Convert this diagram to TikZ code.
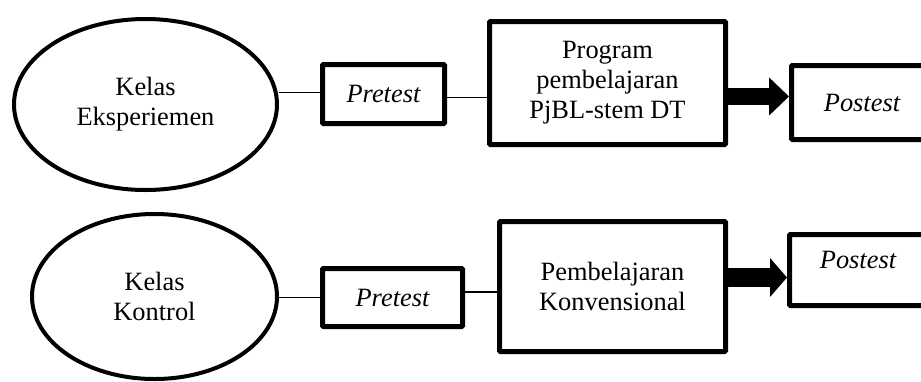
\documentclass[tikz,border=0pt]{standalone}
\usepackage{fontspec}
\setmainfont{Liberation Serif}
\usetikzlibrary{shapes.geometric,arrows.meta,calc}

\tikzset{
  txt/.style={font=\fontsize{26.4}{30}\selectfont, align=center, text=black},
  group/.style={txt, ellipse, draw=black, line width=4pt, inner sep=0pt},
  stepbox/.style={txt, rectangle, draw=black, line width=5pt, inner sep=0pt, rounded corners=1pt},
  link/.style={draw=black, line width=1.2pt},
  fatarrow/.style={draw=black, line width=#1},
}

\begin{document}
\begin{tikzpicture}[x=1pt, y=-1pt]
  \useasboundingbox (0,0) rectangle (921,381);
  \clip (0,0) rectangle (921,381);
  \fill[white] (0,0) rectangle (921,381);

  % experimental class row
  \node[group, minimum width=263pt, minimum height=171pt] (e1) at (145.5,104.5) {Kelas\\Eksperiemen};
  \node[stepbox, minimum width=122pt, minimum height=59pt] (pre1) at (383.5,94) {\itshape Pretest};
  \node[stepbox, minimum width=236pt, minimum height=123pt] (prog) at (607.5,83) {Program\\pembelajaran\\PjBL-stem DT};
  \node[stepbox, minimum width=141pt, minimum height=74pt] (post1) at (862,102.5) {\itshape Postest};

  \draw[link] ($(pre1.west)+(0,-1.5)$) -- ($(pre1.west -| e1.east)+(0,-1.5)$);
  \draw[link] ($(pre1.east)+(0,3.5)$) -- ($(pre1.east -| prog.west)+(0,3.5)$);
  \draw[line width=17pt, -{Triangle[length=20pt,width=37pt]}]
    (prog.east |- 0,96.5) -- (post1.west |- 0,96.5);

  % control class row
  \node[group, minimum width=245pt, minimum height=165pt] (e2) at (154.5,296.5) {Kelas\\Kontrol};
  \node[stepbox, minimum width=140pt, minimum height=58pt] (pre2) at (392.5,297.5) {\itshape Pretest};
  \node[stepbox, minimum width=226pt, minimum height=130pt] (konv) at (612.5,286.5) {Pembelajaran\\Konvensional};
  \node[stepbox, minimum width=137pt, minimum height=71pt, text depth=20pt] (post2) at (858,270) {\itshape Postest};

  \draw[link] (pre2.west) -- (pre2.west -| e2.east);
  \draw[link] ($(pre2.east)+(0,-5.5)$) -- ($(pre2.east -| konv.west)+(0,-5.5)$);
  \draw[line width=19pt, -{Triangle[length=17pt,width=38pt]}]
    (konv.east |- 0,277.5) -- (post2.west |- 0,277.5);
\end{tikzpicture}
\end{document}
